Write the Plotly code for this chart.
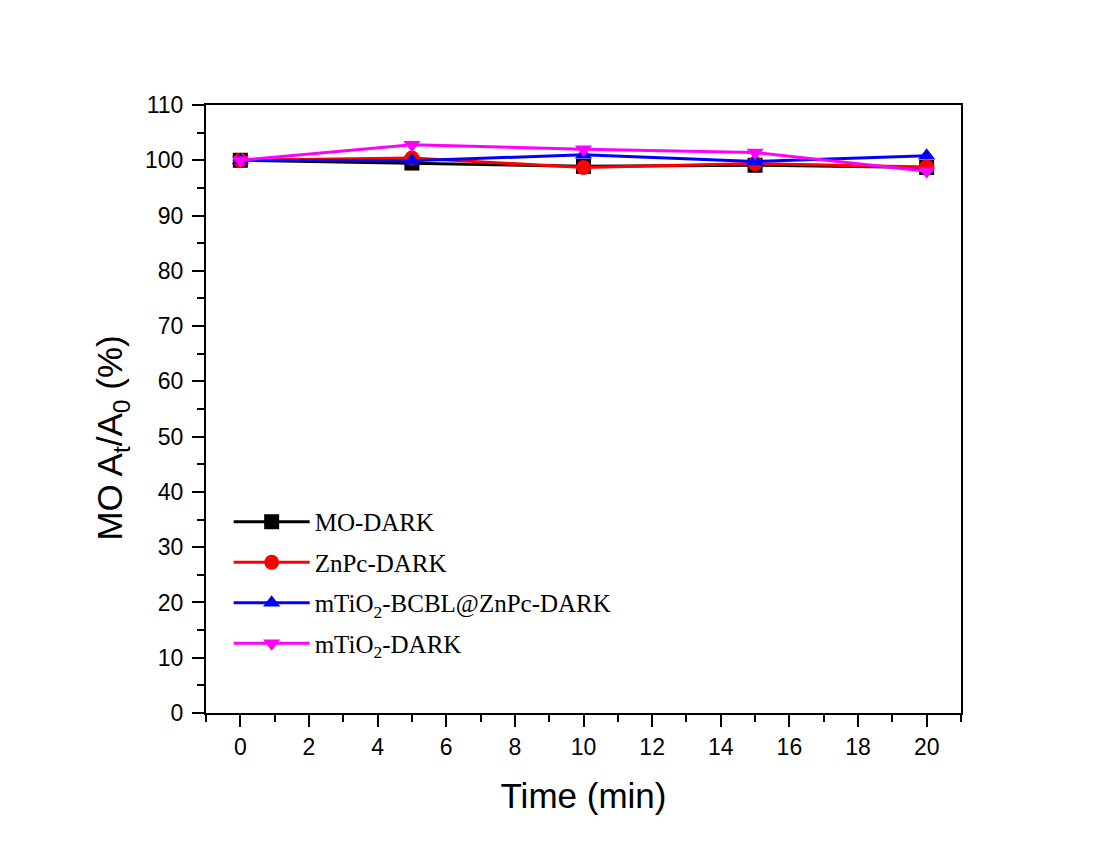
import plotly.graph_objects as go

time = [0, 5, 10, 15, 20]
mo_dark = [100.0, 99.5, 98.9, 99.1, 98.7]
znpc_dark = [100.0, 100.4, 98.7, 99.4, 98.8]
mtio2_bcbl_znpc_dark = [100.0, 99.9, 101.0, 99.8, 100.8]
mtio2_dark = [100.0, 102.8, 102.0, 101.4, 98.0]

series = [
    ("MO-DARK", mo_dark, "#000000", "square"),
    ("ZnPc-DARK", znpc_dark, "#ff0000", "circle"),
    ("mTiO<sub>2</sub>-BCBL@ZnPc-DARK", mtio2_bcbl_znpc_dark, "#0000ff", "triangle-up"),
    ("mTiO<sub>2</sub>-DARK", mtio2_dark, "#ff00ff", "triangle-down"),
]

x_ticks = list(range(0, 21, 2))
y_ticks = list(range(0, 111, 10))

fig = go.Figure()
for i, (name, vals, color, sym) in enumerate(series):
    fig.add_trace(go.Scatter(
        x=time, y=vals, name=name, mode="lines+markers",
        legendgroup=f"g{i}",
        line=dict(color=color, width=3),
        marker=dict(symbol=sym, size=15, color=color),
    ))

axis_common = dict(
    showline=True, linecolor="black", linewidth=2, mirror=True,
    ticks="outside", tickcolor="black", tickwidth=2, ticklen=12,
    showgrid=False, zeroline=False,
    tickfont=dict(family="Liberation Sans, Arial", size=23, color="black"),
)

fig.update_xaxes(
    range=[-1, 21], tickvals=x_ticks, ticktext=[str(v) for v in x_ticks],
    minor=dict(ticks="outside", dtick=1, tick0=1, ticklen=7, tickwidth=2, tickcolor="black"),
    title=dict(text="Time (min)", font=dict(family="Liberation Sans, Arial", size=35, color="black"), standoff=25),
    **axis_common,
)
fig.update_yaxes(
    range=[0, 110], tickvals=y_ticks, ticktext=[str(v) for v in y_ticks],
    minor=dict(ticks="outside", dtick=5, tick0=5, ticklen=7, tickwidth=2, tickcolor="black"),
    ticklabelstandoff=4,
    **axis_common,
)

fig.add_annotation(
    text="MO A<sub>t</sub>/A<sub>0</sub> (%)",
    xref="paper", yref="paper", x=-0.124, y=0.452,
    xanchor="center", yanchor="middle", textangle=-90, showarrow=False,
    font=dict(family="Liberation Sans, Arial", size=35, color="black"),
)

fig.update_layout(
    width=1102, height=845,
    margin=dict(l=198, r=149, t=97, b=140),
    paper_bgcolor="white", plot_bgcolor="white",
    showlegend=True,
    legend=dict(
        x=0.03, y=0.352, xanchor="left", yanchor="top",
        bgcolor="rgba(0,0,0,0)", borderwidth=0,
        font=dict(family="Liberation Serif, Times New Roman", size=25, color="black"),
        itemwidth=76, tracegroupgap=5,
    ),
)

fig.write_html("out.html")
